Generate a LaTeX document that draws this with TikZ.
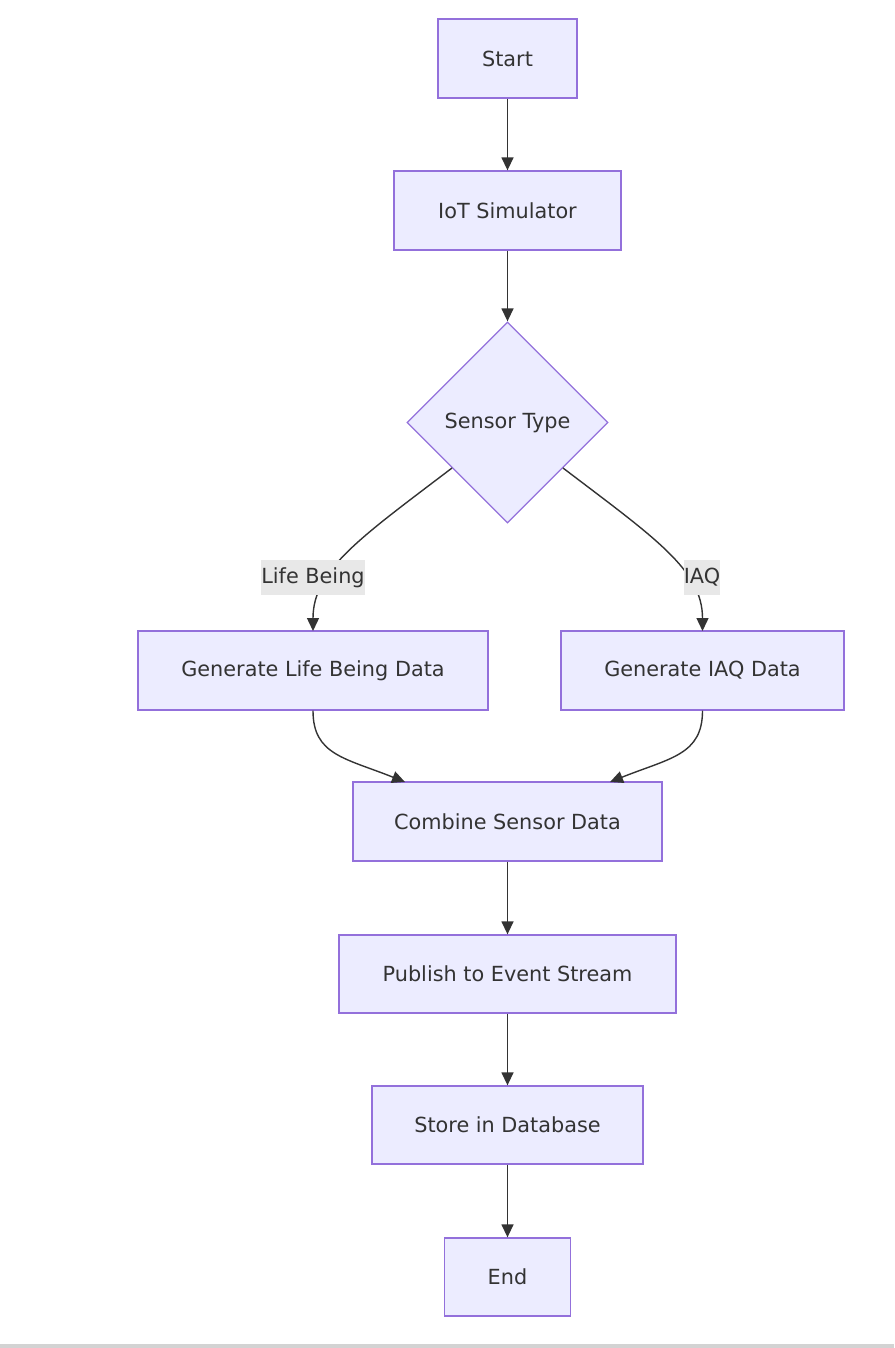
\documentclass[tikz,border=0pt]{standalone}
\usepackage{fontspec}
\setmainfont{DejaVu Sans}
\usetikzlibrary{shapes.geometric,arrows.meta}
\definecolor{nodefill}{HTML}{ECECFF}
\definecolor{nodeline}{HTML}{9370DB}
\definecolor{ink}{HTML}{333333}
\definecolor{lblbg}{HTML}{E8E8E8}
\definecolor{barc}{HTML}{D3D3D3}
\tikzset{
  box/.style={draw=nodeline, fill=nodefill, line width=1.3pt, text=ink, inner sep=0pt, minimum height=79pt,
    font=\fontsize{20.8}{24}\selectfont},
  dia/.style={diamond, draw=nodeline, fill=nodefill, line width=1.3pt, text=ink, inner sep=0pt, aspect=1,
    minimum width=201pt, minimum height=201pt, font=\fontsize{20.8}{24}\selectfont},
  lbl/.style={fill=lblbg, text=ink, inner sep=0pt, minimum height=35pt, font=\fontsize{20.8}{24}\selectfont},
  conn/.style={draw=ink, line width=1.4pt, -{Triangle[length=13pt,width=12pt]}},
}
\begin{document}
\begin{tikzpicture}[x=1pt,y=-1pt]
\useasboundingbox (0,0) rectangle (894,1348);
\fill[barc] (0,1344) rectangle (894,1348);
\node[box, minimum width=139pt] (start) at (507.5,58.5) {Start};
\node[box, minimum width=227pt] (iot) at (507.5,210.5) {IoT Simulator};
\node[dia] (st) at (507.5,422.5) {Sensor Type};
\node[box, minimum width=350pt] (glb) at (313,670.5) {Generate Life Being Data};
\node[box, minimum width=283pt] (giaq) at (702.5,670.5) {Generate IAQ Data};
\node[box, minimum width=309pt] (comb) at (507.5,821.5) {Combine Sensor Data};
\node[box, minimum width=337pt, minimum height=78pt] (pub) at (507.5,974) {Publish to Event Stream};
\node[box, minimum width=271pt, minimum height=78pt] (store) at (507.5,1125) {Store in Database};
\node[box, minimum width=126pt, minimum height=78pt] (end) at (507.5,1277) {End};
\coordinate (dl) at (452,468);
\coordinate (dr) at (563,468);
\coordinate (lbtip) at (313,631);
\coordinate (iqtip) at (702.5,631);
\coordinate (cl) at (405,782);
\coordinate (cr) at (610,782);
\draw[conn] (start.south) -- (iot.north);
\draw[conn] (iot.south) -- (st.north);
\draw[conn] (dl) .. controls (360,538) and (313,570) .. (lbtip);
\draw[conn] (dr) .. controls (655,538) and (702.5,570) .. (iqtip);
\node[lbl, minimum width=104pt] (l1) at (313,577.5) {Life Being};
\node[lbl, minimum width=36pt] (l2) at (702,577.5) {IAQ};
\draw[conn] (glb.south) .. controls (313,755) and (345,758) .. (cl);
\draw[conn] (giaq.south) .. controls (702.5,755) and (670,758) .. (cr);
\draw[conn] (comb.south) -- (pub.north);
\draw[conn] (pub.south) -- (store.north);
\draw[conn] (store.south) -- (end.north);
\end{tikzpicture}
\end{document}
